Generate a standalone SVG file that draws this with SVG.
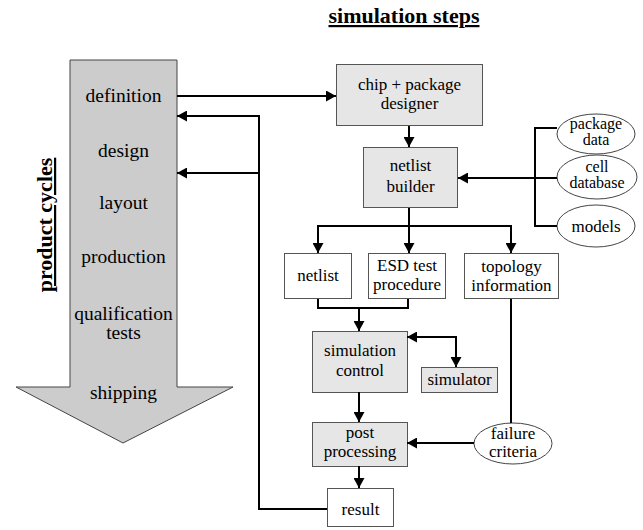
<svg xmlns="http://www.w3.org/2000/svg" width="643" height="530" viewBox="0 0 643 530" font-family="'Liberation Serif', 'Times New Roman', Times, 'DejaVu Serif', serif">
<defs>
<marker id="ah" markerWidth="10" markerHeight="11" refX="10" refY="5.5" orient="auto" markerUnits="userSpaceOnUse">
<path d="M0,0 L10,5.5 L0,11 Z" fill="#000"/>
</marker>
<marker id="ahs" markerWidth="10" markerHeight="11" refX="0" refY="5.5" orient="auto" markerUnits="userSpaceOnUse">
<path d="M10,0 L0,5.5 L10,11 Z" fill="#000"/>
</marker>
</defs>
<style>
text{font-family:'Liberation Serif','Times New Roman',Times,'DejaVu Serif',serif;font-weight:normal;fill:#000;text-anchor:middle}
.l{font-size:19.5px}
.r{font-size:17px}
.s{font-size:16px}
text.t{font-weight:bold;text-decoration:underline}
.g{fill:#e6e6e6;stroke:#555;stroke-width:1}
.w{fill:#fff;stroke:#555;stroke-width:1}
.e{fill:#fff;stroke:#444;stroke-width:1}
.c{fill:none;stroke:#000;stroke-width:2}
</style>
<rect width="643" height="530" fill="#fff"/>

<g id="title-sim">
<text class="t" x="404" y="23" style="font-size:22px">simulation steps</text>
</g>
<g id="title-product">
<text class="t" transform="translate(52,225) rotate(-90)" x="0" y="0" style="font-size:22px">product cycles</text>
</g>

<g id="product-arrow">
<polygon points="70,60 177,60 177,387 233,387 123,443 16,387 70,387" fill="#cccccc" stroke="#444" stroke-width="1"/>
<text class="l" x="123.5" y="102">definition</text>
<text class="l" x="123.5" y="157">design</text>
<text class="l" x="123.5" y="209">layout</text>
<text class="l" x="123.5" y="263">production</text>
<text class="l" x="123.5" y="320">qualification</text>
<text class="l" x="123.5" y="339">tests</text>
<text class="l" x="123.5" y="399">shipping</text>
</g>

<g id="chip-designer">
<rect class="g" x="336.5" y="64.5" width="146" height="61"/>
<text class="r" x="409.5" y="90">chip + package</text>
<text class="r" x="409.5" y="109">designer</text>
</g>
<g id="netlist-builder">
<rect class="g" x="363.5" y="147.5" width="94" height="60"/>
<text class="r" x="410.5" y="171">netlist</text>
<text class="r" x="410.5" y="192">builder</text>
</g>
<g id="package-data">
<ellipse class="e" cx="596" cy="134" rx="39" ry="20"/>
<text class="s" x="596" y="129">package</text>
<text class="s" x="596" y="145">data</text>
</g>
<g id="cell-database">
<ellipse class="e" cx="597" cy="177" rx="40" ry="22"/>
<text class="s" x="597" y="172">cell</text>
<text class="s" x="597" y="188">database</text>
</g>
<g id="models">
<ellipse class="e" cx="596" cy="226" rx="39" ry="21"/>
<text class="r" x="596" y="232">models</text>
</g>
<g id="netlist">
<rect class="w" x="284.5" y="253.5" width="67" height="45"/>
<text class="r" x="318" y="281">netlist</text>
</g>
<g id="esd-test">
<rect class="w" x="368.5" y="253.5" width="77" height="45"/>
<text class="r" x="407" y="271">ESD test</text>
<text class="r" x="407" y="290">procedure</text>
</g>
<g id="topology">
<rect class="w" x="464.5" y="253.5" width="94" height="45"/>
<text class="r" x="511.5" y="272">topology</text>
<text class="r" x="511.5" y="291">information</text>
</g>
<g id="simulation-control">
<rect class="g" x="312.5" y="331.5" width="95" height="61"/>
<text class="r" x="360" y="356">simulation</text>
<text class="r" x="360" y="376">control</text>
</g>
<g id="simulator">
<rect class="g" x="421.5" y="367.5" width="76" height="25"/>
<text class="r" x="459.5" y="385">simulator</text>
</g>
<g id="post-processing">
<rect class="g" x="312.5" y="422.5" width="95" height="44"/>
<text class="r" x="360" y="438">post</text>
<text class="r" x="360" y="457">processing</text>
</g>
<g id="failure-criteria">
<ellipse class="e" cx="513" cy="443.5" rx="39" ry="20.5"/>
<text class="r" x="513" y="439">failure</text>
<text class="r" x="513" y="457">criteria</text>
</g>
<g id="result">
<rect class="w" x="327.5" y="488.5" width="66" height="38"/>
<text class="r" x="360.5" y="515">result</text>
</g>

<g id="connectors">
<path class="c" d="M177,96 H336" marker-end="url(#ah)"/>
<path class="c" d="M409,126 V147" marker-end="url(#ah)"/>
<path class="c" d="M557,128 H535 V226 H557"/>
<path class="c" d="M557,178 H458" marker-end="url(#ah)"/>
<path class="c" d="M409,208 V253" marker-end="url(#ah)"/>
<path class="c" d="M409,226 H318 V253" marker-end="url(#ah)"/>
<path class="c" d="M409,226 H511 V253" marker-end="url(#ah)"/>
<path class="c" d="M318,299 V308 H408 V299"/>
<path class="c" d="M359,308 V331" marker-end="url(#ah)"/>
<path class="c" d="M407,337 H456 V367" marker-start="url(#ahs)" marker-end="url(#ah)"/>
<path class="c" d="M359,392 V422" marker-end="url(#ah)"/>
<path class="c" d="M511,299 V423"/>
<path class="c" d="M474,443 H407" marker-end="url(#ah)"/>
<path class="c" d="M359,466 V488" marker-end="url(#ah)"/>
<path class="c" d="M327,509 H259 V116 H177" marker-end="url(#ah)"/>
<path class="c" d="M259,173 H177" marker-end="url(#ah)"/>
</g>
</svg>
